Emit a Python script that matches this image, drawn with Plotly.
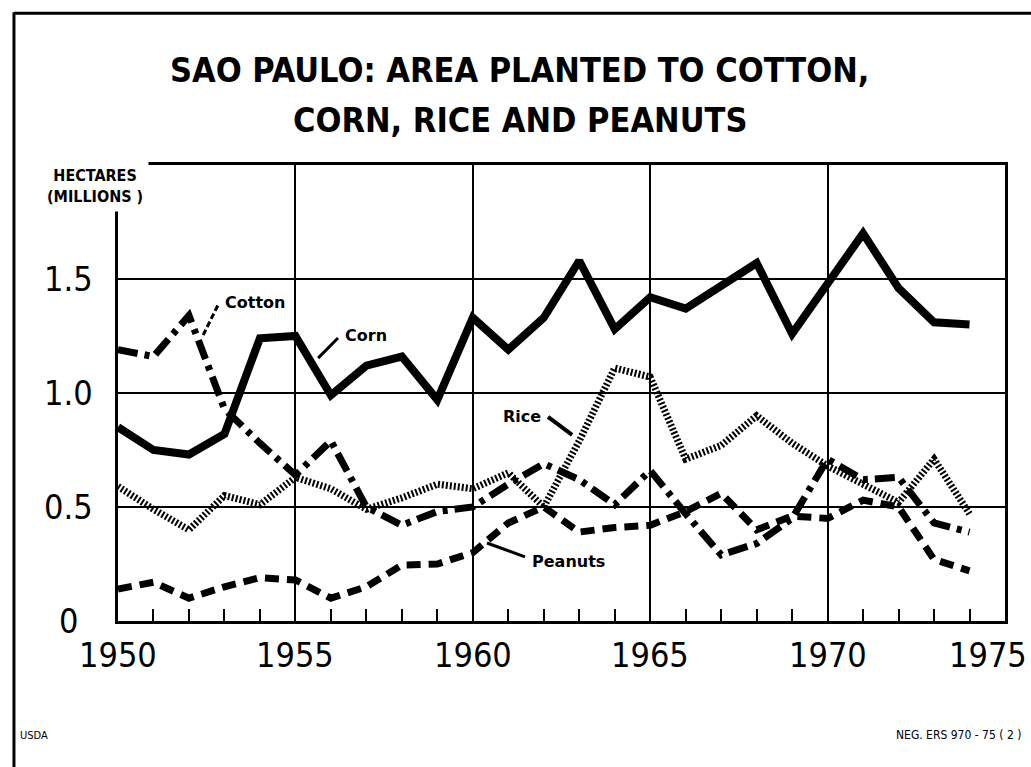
import plotly.graph_objects as go

years = list(range(1950, 1975))
corn = [0.85, 0.75, 0.73, 0.82, 1.24, 1.25, 0.99, 1.12, 1.16, 0.97, 1.33, 1.19, 1.33,
        1.58, 1.28, 1.42, 1.37, 1.47, 1.57, 1.26, 1.48, 1.70, 1.46, 1.31, 1.30]
cotton = [1.19, 1.16, 1.34, 0.93, 0.78, 0.64, 0.79, 0.50, 0.42, 0.48, 0.50, 0.60, 0.69,
          0.62, 0.51, 0.66, 0.47, 0.29, 0.34, 0.45, 0.71, 0.62, 0.63, 0.43, 0.39]
rice = [0.59, 0.49, 0.40, 0.55, 0.51, 0.63, 0.58, 0.49, 0.54, 0.60, 0.58, 0.65, 0.50,
        0.79, 1.11, 1.07, 0.71, 0.77, 0.90, 0.78, 0.68, 0.60, 0.52, 0.71, 0.47]
peanuts = [0.14, 0.17, 0.10, 0.15, 0.19, 0.18, 0.10, 0.15, 0.245, 0.25, 0.30, 0.43, 0.50,
           0.39, 0.41, 0.42, 0.48, 0.56, 0.40, 0.46, 0.45, 0.53, 0.50, 0.27, 0.22]

x_labels = ["1950", "1955", "1960", "1965", "1970", "1975"]
x_label_vals = [1950, 1955, 1960, 1965, 1970, 1975]
y_labels = ["0", "0.5", "1.0", "1.5"]
y_label_vals = [0, 0.5, 1.0, 1.5]

title1 = "SAO PAULO: AREA PLANTED TO COTTON,"
title2 = "CORN, RICE AND PEANUTS"

NUM_FONT = "DejaVu Sans Condensed, DejaVu Sans"
BOLD_FONT = "DejaVu Sans"

fig = go.Figure()
fig.add_trace(go.Scatter(x=years, y=rice, mode="lines", name="Rice",
                         line=dict(color="black", width=7, dash="2px,2px")))
fig.add_trace(go.Scatter(x=years, y=peanuts, mode="lines", name="Peanuts",
                         line=dict(color="black", width=7, dash="14px,8px")))
fig.add_trace(go.Scatter(x=years, y=cotton, mode="lines", name="Cotton",
                         line=dict(color="black", width=7, dash="20px,7px,5px,7px")))
fig.add_trace(go.Scatter(x=years, y=corn, mode="lines", name="Corn",
                         line=dict(color="black", width=8)))

annotations = []
for v, t in zip(x_label_vals, x_labels):
    annotations.append(dict(x=v, y=0, xref="x", yref="y", text=t, showarrow=False,
                            xanchor="center", yanchor="top", yshift=-12,
                            xshift=(-17 if v == 1975 else 0),
                            font=dict(family=NUM_FONT, size=34, color="black")))
for v, t in zip(y_label_vals, y_labels):
    annotations.append(dict(x=-0.056, y=v, xref="paper", yref="y", text=t, showarrow=False,
                            xanchor="center", yanchor="middle",
                            font=dict(family=NUM_FONT, size=34, color="black")))

annotations += [
    dict(x=0.453, y=1.208, xref="paper", yref="paper", text="<b>" + title1 + "</b>",
         showarrow=False, xanchor="center", yanchor="middle",
         font=dict(family=NUM_FONT, size=34, color="black")),
    dict(x=0.453, y=1.099, xref="paper", yref="paper", text="<b>" + title2 + "</b>",
         showarrow=False, xanchor="center", yanchor="middle",
         font=dict(family=NUM_FONT, size=34, color="black")),
    dict(x=-0.026, y=0.955, xref="paper", yref="paper",
         text="<b>HECTARES</b><br><b>(MILLIONS )</b>", showarrow=False,
         xanchor="center", yanchor="middle", align="center",
         bgcolor="white", borderpad=5,
         font=dict(family=NUM_FONT, size=16, color="black")),
    dict(x=1952.96, y=1.395, xref="x", yref="y", text="<b>Cotton</b>", showarrow=False,
         xanchor="left", yanchor="middle", font=dict(family=BOLD_FONT, size=16, color="black")),
    dict(x=1956.34, y=1.254, xref="x", yref="y", text="<b>Corn</b>", showarrow=False,
         xanchor="left", yanchor="middle", font=dict(family=BOLD_FONT, size=16, color="black")),
    dict(x=1961.98, y=0.895, xref="x", yref="y", text="<b>Rice</b>", showarrow=False,
         xanchor="right", yanchor="middle", font=dict(family=BOLD_FONT, size=16, color="black")),
    dict(x=1961.61, y=0.259, xref="x", yref="y", text="<b>Peanuts</b>", showarrow=False,
         xanchor="left", yanchor="middle", font=dict(family=BOLD_FONT, size=16, color="black")),
    dict(x=-0.1127, y=-0.25, xref="paper", yref="paper", text="USDA", showarrow=False,
         xanchor="left", yanchor="middle", font=dict(family=NUM_FONT, size=11, color="black")),
    dict(x=1.02, y=-0.25, xref="paper", yref="paper", text="NEG. ERS 970 - 75 ( 2 )",
         showarrow=False, xanchor="right", yanchor="middle",
         font=dict(family=NUM_FONT, size=12, color="black")),
]

shapes = [
    # outer frame (left and top)
    dict(type="line", xref="paper", yref="paper", x0=-0.1173, x1=-0.1173, y0=-0.34, y1=1.335,
         line=dict(color="black", width=3)),
    dict(type="line", xref="paper", yref="paper", x0=-0.1173, x1=1.035, y0=1.333, y1=1.333,
         line=dict(color="black", width=3)),
    # leader lines
    dict(type="line", xref="x", yref="y", x0=1952.4, y0=1.254, x1=1952.82, y1=1.386,
         line=dict(color="black", width=3, dash="6px,3px")),
    dict(type="line", xref="x", yref="y", x0=1955.64, y0=1.153, x1=1956.2, y1=1.241,
         line=dict(color="black", width=3)),
    dict(type="line", xref="x", yref="y", x0=1962.12, y0=0.895, x1=1962.8, y1=0.816,
         line=dict(color="black", width=4)),
    dict(type="line", xref="x", yref="y", x0=1960.4, y0=0.342, x1=1961.47, y1=0.281,
         line=dict(color="black", width=3)),
]

fig.update_layout(
    width=1031, height=767, autosize=False,
    margin=dict(l=118, r=26, t=165, b=146),
    paper_bgcolor="white", plot_bgcolor="white",
    showlegend=False,
    annotations=annotations, shapes=shapes,
    xaxis=dict(range=[1950, 1975], dtick=5, tick0=1950, showgrid=True, gridcolor="black",
               gridwidth=2, ticks="inside", ticklen=12, tickwidth=2, tickcolor="black",
               showticklabels=False, showline=True, linecolor="black", linewidth=3,
               mirror=True, zeroline=False,
               minor=dict(dtick=1, ticks="inside", ticklen=12, tickwidth=2,
                          tickcolor="black", showgrid=False)),
    yaxis=dict(range=[0, 2], dtick=0.5, showgrid=True, gridcolor="black", gridwidth=2,
               showticklabels=False, ticks="", showline=True, linecolor="black",
               linewidth=3, mirror=True, zeroline=False),
)

fig.write_html("out.html", config={"displayModeBar": False},
               post_script="document.body.style.margin='0px';document.body.style.overflow='hidden';")
